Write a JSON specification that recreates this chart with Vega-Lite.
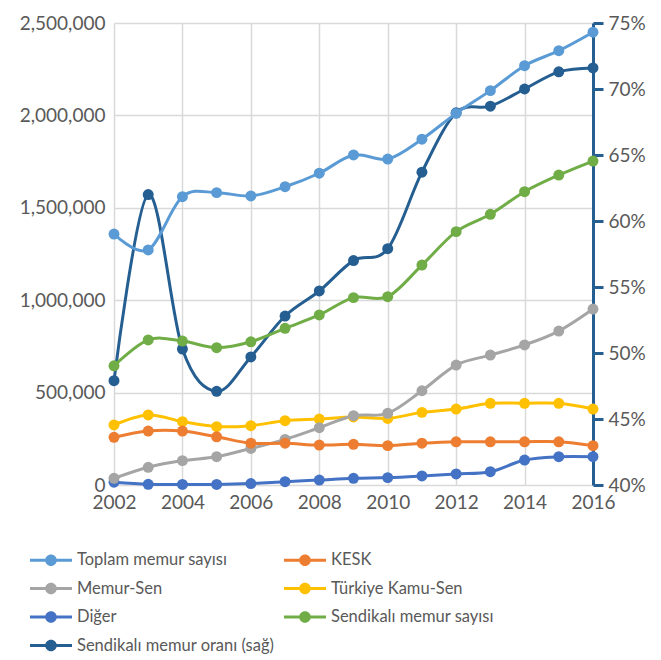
{
  "$schema": "https://vega.github.io/schema/vega-lite/v6.json",
  "width": 479,
  "height": 462,
  "autosize": {"type": "none"},
  "padding": {"left": 114, "top": 23, "right": 68, "bottom": 175},
  "background": "white",
  "config": {
    "view": {"stroke": null},
    "font": "Lato",
    "axis": {"labelFont": "Lato", "labelFontSize": 19, "labelColor": "#595959", "title": null, "gridColor": "#D9D9D9", "gridWidth": 1.5}
  },
  "datasets": {
    "left": [
      {"year": 2002, "series": "Sendikalı memur sayısı", "value": 645000},
      {"year": 2003, "series": "Sendikalı memur sayısı", "value": 785000},
      {"year": 2004, "series": "Sendikalı memur sayısı", "value": 779000},
      {"year": 2005, "series": "Sendikalı memur sayısı", "value": 743000},
      {"year": 2006, "series": "Sendikalı memur sayısı", "value": 775000},
      {"year": 2007, "series": "Sendikalı memur sayısı", "value": 848000},
      {"year": 2008, "series": "Sendikalı memur sayısı", "value": 920000},
      {"year": 2009, "series": "Sendikalı memur sayısı", "value": 1014000},
      {"year": 2010, "series": "Sendikalı memur sayısı", "value": 1019000},
      {"year": 2011, "series": "Sendikalı memur sayısı", "value": 1190000},
      {"year": 2012, "series": "Sendikalı memur sayısı", "value": 1371000},
      {"year": 2013, "series": "Sendikalı memur sayısı", "value": 1465000},
      {"year": 2014, "series": "Sendikalı memur sayısı", "value": 1587000},
      {"year": 2015, "series": "Sendikalı memur sayısı", "value": 1677000},
      {"year": 2016, "series": "Sendikalı memur sayısı", "value": 1753000},
      {"year": 2002, "series": "Diğer", "value": 15000},
      {"year": 2003, "series": "Diğer", "value": 4000},
      {"year": 2004, "series": "Diğer", "value": 3000},
      {"year": 2005, "series": "Diğer", "value": 3000},
      {"year": 2006, "series": "Diğer", "value": 8000},
      {"year": 2007, "series": "Diğer", "value": 18000},
      {"year": 2008, "series": "Diğer", "value": 27000},
      {"year": 2009, "series": "Diğer", "value": 36000},
      {"year": 2010, "series": "Diğer", "value": 40000},
      {"year": 2011, "series": "Diğer", "value": 49000},
      {"year": 2012, "series": "Diğer", "value": 60000},
      {"year": 2013, "series": "Diğer", "value": 72000},
      {"year": 2014, "series": "Diğer", "value": 135000},
      {"year": 2015, "series": "Diğer", "value": 153000},
      {"year": 2016, "series": "Diğer", "value": 153000},
      {"year": 2002, "series": "Türkiye Kamu-Sen", "value": 325000},
      {"year": 2003, "series": "Türkiye Kamu-Sen", "value": 379000},
      {"year": 2004, "series": "Türkiye Kamu-Sen", "value": 343000},
      {"year": 2005, "series": "Türkiye Kamu-Sen", "value": 316000},
      {"year": 2006, "series": "Türkiye Kamu-Sen", "value": 321000},
      {"year": 2007, "series": "Türkiye Kamu-Sen", "value": 348000},
      {"year": 2008, "series": "Türkiye Kamu-Sen", "value": 357000},
      {"year": 2009, "series": "Türkiye Kamu-Sen", "value": 368000},
      {"year": 2010, "series": "Türkiye Kamu-Sen", "value": 360000},
      {"year": 2011, "series": "Türkiye Kamu-Sen", "value": 393000},
      {"year": 2012, "series": "Türkiye Kamu-Sen", "value": 411000},
      {"year": 2013, "series": "Türkiye Kamu-Sen", "value": 442000},
      {"year": 2014, "series": "Türkiye Kamu-Sen", "value": 442000},
      {"year": 2015, "series": "Türkiye Kamu-Sen", "value": 442000},
      {"year": 2016, "series": "Türkiye Kamu-Sen", "value": 411000},
      {"year": 2002, "series": "Memur-Sen", "value": 36000},
      {"year": 2003, "series": "Memur-Sen", "value": 96000},
      {"year": 2004, "series": "Memur-Sen", "value": 132000},
      {"year": 2005, "series": "Memur-Sen", "value": 153000},
      {"year": 2006, "series": "Memur-Sen", "value": 198000},
      {"year": 2007, "series": "Memur-Sen", "value": 247000},
      {"year": 2008, "series": "Memur-Sen", "value": 310000},
      {"year": 2009, "series": "Memur-Sen", "value": 375000},
      {"year": 2010, "series": "Memur-Sen", "value": 388000},
      {"year": 2011, "series": "Memur-Sen", "value": 510000},
      {"year": 2012, "series": "Memur-Sen", "value": 649000},
      {"year": 2013, "series": "Memur-Sen", "value": 703000},
      {"year": 2014, "series": "Memur-Sen", "value": 758000},
      {"year": 2015, "series": "Memur-Sen", "value": 833000},
      {"year": 2016, "series": "Memur-Sen", "value": 952000},
      {"year": 2002, "series": "KESK", "value": 258000},
      {"year": 2003, "series": "KESK", "value": 292000},
      {"year": 2004, "series": "KESK", "value": 292000},
      {"year": 2005, "series": "KESK", "value": 261000},
      {"year": 2006, "series": "KESK", "value": 226000},
      {"year": 2007, "series": "KESK", "value": 226000},
      {"year": 2008, "series": "KESK", "value": 216000},
      {"year": 2009, "series": "KESK", "value": 220000},
      {"year": 2010, "series": "KESK", "value": 213000},
      {"year": 2011, "series": "KESK", "value": 226000},
      {"year": 2012, "series": "KESK", "value": 234000},
      {"year": 2013, "series": "KESK", "value": 234000},
      {"year": 2014, "series": "KESK", "value": 234000},
      {"year": 2015, "series": "KESK", "value": 234000},
      {"year": 2016, "series": "KESK", "value": 213000},
      {"year": 2002, "series": "Toplam memur sayısı", "value": 1358000},
      {"year": 2003, "series": "Toplam memur sayısı", "value": 1272000},
      {"year": 2004, "series": "Toplam memur sayısı", "value": 1560000},
      {"year": 2005, "series": "Toplam memur sayısı", "value": 1582000},
      {"year": 2006, "series": "Toplam memur sayısı", "value": 1564000},
      {"year": 2007, "series": "Toplam memur sayısı", "value": 1614000},
      {"year": 2008, "series": "Toplam memur sayısı", "value": 1687000},
      {"year": 2009, "series": "Toplam memur sayısı", "value": 1786000},
      {"year": 2010, "series": "Toplam memur sayısı", "value": 1764000},
      {"year": 2011, "series": "Toplam memur sayısı", "value": 1871000},
      {"year": 2012, "series": "Toplam memur sayısı", "value": 2011000},
      {"year": 2013, "series": "Toplam memur sayısı", "value": 2134000},
      {"year": 2014, "series": "Toplam memur sayısı", "value": 2269000},
      {"year": 2015, "series": "Toplam memur sayısı", "value": 2350000},
      {"year": 2016, "series": "Toplam memur sayısı", "value": 2450000}
    ],
    "right": [
      {"year": 2002, "rate": 0.479},
      {"year": 2003, "rate": 0.620},
      {"year": 2004, "rate": 0.503},
      {"year": 2005, "rate": 0.471},
      {"year": 2006, "rate": 0.497},
      {"year": 2007, "rate": 0.528},
      {"year": 2008, "rate": 0.547},
      {"year": 2009, "rate": 0.570},
      {"year": 2010, "rate": 0.579},
      {"year": 2011, "rate": 0.637},
      {"year": 2012, "rate": 0.682},
      {"year": 2013, "rate": 0.687},
      {"year": 2014, "rate": 0.700},
      {"year": 2015, "rate": 0.713},
      {"year": 2016, "rate": 0.716}
    ]
  },
  "layer": [
    {
      "data": {"name": "right"},
      "mark": {"type": "line", "interpolate": "cardinal", "strokeWidth": 3, "point": {"filled": true, "size": 120, "opacity": 1}},
      "encoding": {
        "x": {"field": "year", "type": "quantitative", "scale": {"domain": [2002, 2016], "nice": false, "zero": false},
              "axis": {"values": [2002, 2004, 2006, 2008, 2010, 2012, 2014, 2016], "format": "d", "grid": true, "domain": false, "ticks": false, "labelPadding": 8, "labelFlush": false}},
        "y": {"field": "rate", "type": "quantitative", "scale": {"domain": [0.4, 0.75], "nice": false, "zero": false},
              "axis": {"orient": "right", "values": [0.4, 0.45, 0.5, 0.55, 0.6, 0.65, 0.7, 0.75], "format": ".0%", "grid": false, "domain": true, "domainColor": "#255E91", "domainWidth": 3, "ticks": true, "tickColor": "#255E91", "tickWidth": 3, "tickSize": 10, "labelPadding": 5}},
        "color": {"datum": "Sendikalı memur oranı (sağ)", "type": "nominal"}
      }
    },
    {
      "data": {"name": "left"},
      "mark": {"type": "line", "interpolate": "cardinal", "strokeWidth": 3, "point": {"filled": true, "size": 120, "opacity": 1}},
      "encoding": {
        "x": {"field": "year", "type": "quantitative"},
        "y": {"field": "value", "type": "quantitative", "scale": {"domain": [0, 2500000], "nice": false},
              "axis": {"values": [0, 500000, 1000000, 1500000, 2000000, 2500000], "format": ",d", "grid": true, "domain": false, "ticks": false, "labelPadding": 9}},
        "color": {
          "field": "series", "type": "nominal",
          "scale": {
            "domain": ["Toplam memur sayısı", "Memur-Sen", "Diğer", "Sendikalı memur oranı (sağ)", "KESK", "Türkiye Kamu-Sen", "Sendikalı memur sayısı"],
            "range": ["#5B9BD5", "#A5A5A5", "#4472C4", "#255E91", "#ED7D31", "#FFC000", "#70AD47"]
          },
          "legend": {
            "title": null, "orient": "none", "legendX": -73, "legendY": 527, "columns": 2, "columnPadding": 9, "rowPadding": 9.5,
            "padding": 0, "labelFont": "Lato", "labelFontSize": 16.5, "labelColor": "#595959", "labelOffset": 16, "symbolSize": 400,
            "symbolType": "M-2.1,-0.15H2.1V0.15H-2.1Z M-0.58,0A0.58,0.58 0 1,1 0.58,0A0.58,0.58 0 1,1 -0.58,0Z",
            "symbolStrokeWidth": 0, "labelLimit": 400,
            "encode": {"symbols": {"update": {"fill": {"scale": "color", "field": "value"}, "stroke": {"value": "transparent"}, "strokeWidth": {"value": 0}, "opacity": {"value": 1}, "fillOpacity": {"value": 1}}}}
          }
        }
      }
    }
  ],
  "resolve": {"scale": {"y": "independent"}}
}
